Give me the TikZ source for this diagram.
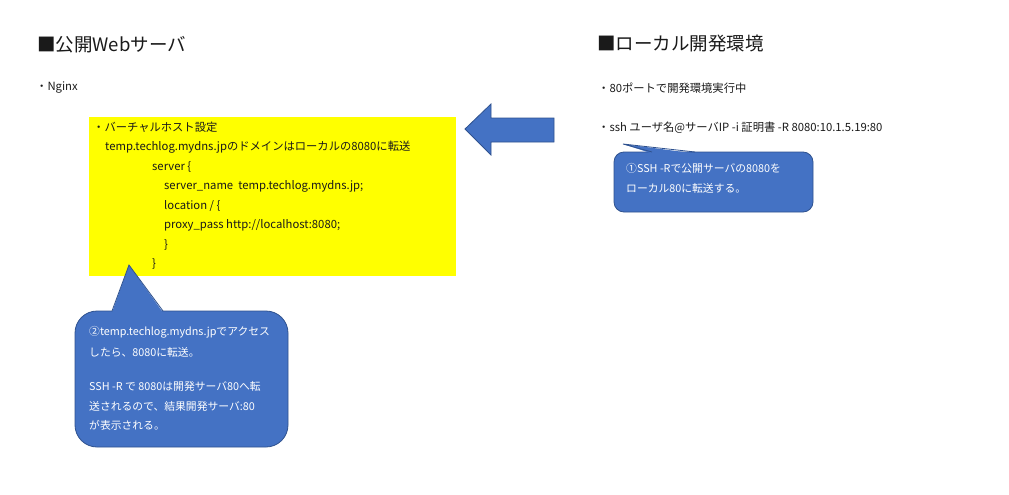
\documentclass[tikz,border=0pt]{standalone}
\usepackage{fontspec}
\setmainfont{Noto Sans CJK JP}
\definecolor{cblue}{HTML}{4472C4}
\definecolor{cborder}{HTML}{2F528F}
\definecolor{cyellow}{HTML}{FFFF00}
\definecolor{ctext}{HTML}{1A1A1A}
\tikzset{
  title/.style={anchor=west,inner sep=0pt,font=\fontsize{18.5}{22}\selectfont,text=ctext},
  body/.style={anchor=west,inner sep=0pt,font=\fontsize{11.3}{13}\selectfont,text=ctext},
  ctxt/.style={anchor=west,inner sep=0pt,font=\fontsize{10.8}{13}\selectfont,text=white},
  bluefill/.style={fill=cblue,draw=cborder,line width=0.8pt},
}
\begin{document}
\begin{tikzpicture}[x=1pt,y=-1pt]
\useasboundingbox[fill=white] (0,0) rectangle (1009,495);
% titles
\node[title] (t1) at (37,45) {■公開Webサーバ};
\node[title] (t2) at (597,44) {■ローカル開発環境};
\node[body] (nginx) at (36,88) {・Nginx};
% yellow box
\node[fill=cyellow,inner sep=0pt,minimum width=367pt,minimum height=159pt,anchor=north west] (ybox) at (89,117) {};
\node[body] (y1) at (93,127) {・バーチャルホスト設定};
\node[body] (y2) at (105,147) {temp.techlog.mydns.jpのドメインはローカルの8080に転送};
\node[body] (y3) at (152,167) {server \{};
\node[body] (y4) at (164,186) {server\_name\ \ temp.techlog.mydns.jp;};
\node[body] (y5) at (164,206) {location / \{};
\node[body] (y6) at (164,225) {proxy\_pass http://localhost:8080;};
\node[body] (y7) at (164,245) {\}};
\node[body] (y8) at (152,264) {\}};
% right side
\node[body] (r1) at (598,88) {・80ポートで開発環境実行中};
\node[body] (r2) at (598,128) {・ssh ユーザ名@サーバIP -i 証明書 -R 8080:10.1.5.19:80};
% big arrow
\draw[bluefill,line join=miter] (465,129) -- (491,104) -- (491,118) -- (554,118) -- (554,142) -- (491,142) -- (491,155) -- cycle;
% callout 1
\draw[bluefill,rounded corners=10pt] (614,152) rectangle (813,212);
\fill[cblue] (652,153.5) -- (623,144) -- (695,153.5) -- cycle;
\draw[cborder,line width=0.8pt,line join=miter] (652,152) -- (623,144) -- (695,152);
\node[ctxt] (c1a) at (626,168) {①SSH -Rで公開サーバの8080を};
\node[ctxt] (c1b) at (626,188) {ローカル80に転送する。};
% callout 2
\draw[bluefill,rounded corners=22pt] (75,311) rectangle (288,447);
\fill[cblue] (112,312.5) -- (129,265) -- (163,312.5) -- cycle;
\draw[cborder,line width=0.8pt,line join=miter] (112,311) -- (129,265) -- (163,311);
\node[ctxt] (c2a) at (89,332) {②temp.techlog.mydns.jpでアクセス};
\node[ctxt] (c2b) at (89,352) {したら、8080に転送。};
\node[ctxt] (c2c) at (89,386) {SSH -R で 8080は開発サーバ80へ転};
\node[ctxt] (c2d) at (89,406) {送されるので、結果開発サーバ:80};
\node[ctxt] (c2e) at (89,425) {が表示される。};
\end{tikzpicture}
\end{document}
